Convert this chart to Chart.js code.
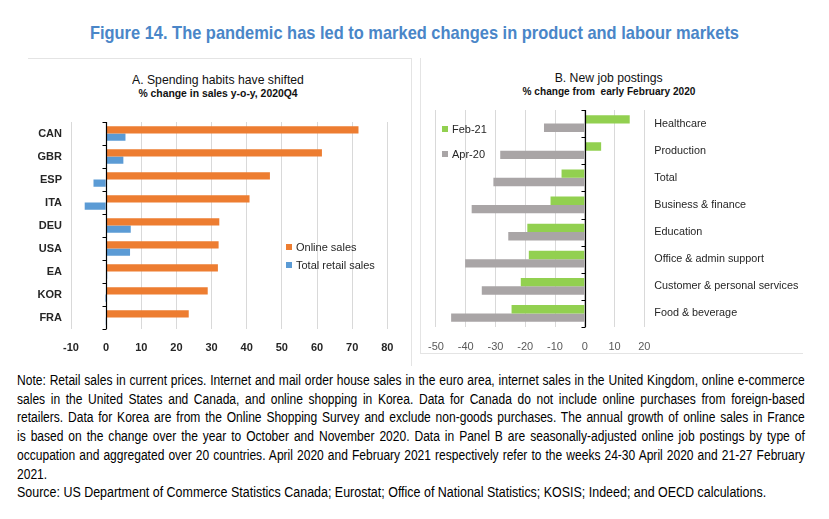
<!DOCTYPE html>
<html>
<head>
<meta charset="utf-8">
<script src="https://cdn.jsdelivr.net/npm/chart.js@4.4.1/dist/chart.umd.min.js"></script>
<style>
  html, body { margin:0; padding:0; background:#fff; }
  body { width:829px; height:519px; position:relative; overflow:hidden; font-family:"Liberation Sans", Arial, sans-serif; color:#000; }
  .abs { position:absolute; }
  .sx { display:inline-block; transform-origin:center center; }
  #title { left:0; width:829px; top:22px; text-align:center; font-weight:bold; font-size:18.5px; color:#4a86c8; white-space:nowrap; }
  #title .sx { transform:scaleX(0.888); }
  .ptitle { text-align:center; font-size:13.5px; color:#111; white-space:nowrap; }
  .ptitle .sx { transform:scaleX(0.905); }
  .psub { text-align:center; font-weight:bold; color:#111; white-space:nowrap; }
  .leg { font-size:11px; color:#262626; white-space:nowrap; }
  .leg span.sw { display:inline-block; width:6px; height:6px; margin-right:4px; vertical-align:1px; }
  #note { left:17px; top:371px; width:800px; font-size:14px; line-height:18.7px; color:#000; }
  #note .j { width:916px; transform:scaleX(0.86); transform-origin:left top; text-align:justify; text-align-last:justify; white-space:nowrap; }
  #note .n { white-space:nowrap; transform:scaleX(0.86); transform-origin:left top; }
  #note .s { white-space:nowrap; transform:scaleX(0.89); transform-origin:left top; }
  canvas { position:absolute; }
</style>
</head>
<body>
<div id="title" class="abs"><span class="sx">Figure 14. The pandemic has led to marked changes in product and labour markets</span></div>

<div class="abs" style="left:28px; top:58px; width:383px; height:307px; border-top:1px solid #e4e4e4; border-right:1px solid #e4e4e4;"></div>
<div class="abs" style="left:420px; top:58px; width:382px; height:295px; border-left:1px solid #e4e4e4; border-bottom:1px solid #e4e4e4;"></div>

<div class="abs ptitle" style="left:118px; width:200px; top:72px;"><span class="sx">A. Spending habits have shifted</span></div>
<div class="abs psub" style="left:118px; width:200px; top:88px; font-size:10.4px;">% change in sales y-o-y, 2020Q4</div>
<div class="abs ptitle" style="left:509px; width:200px; top:70px;"><span class="sx">B. New job postings</span></div>
<div class="abs psub" style="left:509px; width:200px; top:86px; font-size:10.1px;">% change from&nbsp; early February 2020</div>

<canvas id="chartA" width="415" height="365" style="left:0; top:0; width:415px; height:365px;"></canvas>
<canvas id="chartB" width="414" height="365" style="left:415px; top:0; width:414px; height:365px;"></canvas>

<div class="abs leg" style="left:286px; top:241px;"><span class="sw" style="background:#ED7D31"></span>Online sales</div>
<div class="abs leg" style="left:286px; top:259px;"><span class="sw" style="background:#5B9BD5"></span>Total retail sales</div>
<div class="abs leg" style="left:442px; top:123px;"><span class="sw" style="background:#92D050"></span>Feb-21</div>
<div class="abs leg" style="left:442px; top:148px;"><span class="sw" style="background:#A9A5A6"></span>Apr-20</div>

<div id="note" class="abs">
  <div class="j">Note: Retail sales in current prices. Internet and mail order house sales in the euro area, internet sales in the United Kingdom, online e-commerce</div>
  <div class="j">sales in the United States and Canada, and online shopping in Korea. Data for Canada do not include online purchases from foreign-based</div>
  <div class="j">retailers. Data for Korea are from the Online Shopping Survey and exclude non-goods purchases. The annual growth of online sales in France</div>
  <div class="j">is based on the change over the year to October and November 2020. Data in Panel B are seasonally-adjusted online job postings by type of</div>
  <div class="j">occupation and aggregated over 20 countries. April 2020 and February 2021 respectively refer to the weeks 24-30 April 2020 and 21-27 February</div>
  <div class="n">2021.</div>
  <div class="s">Source: US Department of Commerce Statistics Canada; Eurostat; Office of National Statistics; KOSIS; Indeed; and OECD calculations.</div>
</div>

<script>
// ---------- Panel A data ----------
const countries = ["CAN", "GBR", "ESP", "ITA", "DEU", "USA", "EA", "KOR", "FRA"];
const onlineSales = [71.8, 61.4, 46.6, 40.8, 32.2, 32.0, 31.8, 28.9, 23.5];
const totalRetailSales = [5.5, 4.9, -3.6, -6.1, 7.0, 6.8, 0.3, -0.3, -0.2];
const ticksA = [-10, 0, 10, 20, 30, 40, 50, 60, 70, 80];

// ---------- Panel B data ----------
const occupations = ["Healthcare", "Production", "Total", "Business & finance", "Education",
  "Office & admin support", "Customer & personal services", "Food & beverage"];
const feb21 = [15.1, 5.5, -7.8, -11.5, -19.3, -18.8, -21.5, -24.6];
const apr20 = [-13.7, -28.4, -30.7, -38.0, -25.7, -40.2, -34.6, -44.9];
const ticksB = [-50, -40, -30, -20, -10, 0, 10, 20];

const zeroAxis = {
  id: 'zeroAxis',
  afterDatasetsDraw(chart) {
    const { ctx, scales: { x, y } } = chart;
    const x0 = Math.round(x.getPixelForValue(0)) + 0.5;
    const n = chart.data.labels.length;
    const top = y.getPixelForValue(-0.5), bot = y.getPixelForValue(n - 0.5);
    ctx.save();
    ctx.strokeStyle = '#000';
    ctx.lineWidth = 1.2;
    ctx.beginPath();
    ctx.moveTo(x0, top); ctx.lineTo(x0, bot);
    for (let i = 0; i <= n; i++) {
      const yy = Math.round(y.getPixelForValue(i - 0.5)) + 0.5;
      ctx.moveTo(x0, yy); ctx.lineTo(x0 - 4, yy);
    }
    ctx.stroke();
    ctx.restore();
  }
};

Chart.defaults.font.family = '"Liberation Sans", Arial, sans-serif';
Chart.defaults.animation = false;

new Chart(document.getElementById('chartA'), {
  type: 'bar',
  data: {
    labels: countries,
    datasets: [
      { label: 'Online sales', data: onlineSales, backgroundColor: '#ED7D31' },
      { label: 'Total retail sales', data: totalRetailSales, backgroundColor: '#5B9BD5' }
    ]
  },
  options: {
    indexAxis: 'y',
    responsive: false,
    maintainAspectRatio: false,
    categoryPercentage: 0.62,
    barPercentage: 1.0,
    layout: { padding: { top: 122, right: 27.7, left: 0, bottom: 0 } },
    plugins: { legend: { display: false }, tooltip: { enabled: false } },
    scales: {
      x: {
        min: -10, max: 80,
        afterBuildTicks: s => { s.ticks = ticksA.map(v => ({ value: v })); },
        afterFit: s => { s.height = 36; },
        grid: { color: '#d9d9d9', drawTicks: false, lineWidth: 1 },
        border: { display: false },
        ticks: { padding: 12, color: '#262626', font: { size: 11, weight: 'bold' } }
      },
      y: {
        afterFit: s => { s.width = 71; },
        grid: { display: false, drawTicks: false },
        border: { display: false },
        ticks: { padding: 9, color: '#262626', font: { size: 11, weight: 'bold' } }
      }
    }
  },
  plugins: [zeroAxis]
});

new Chart(document.getElementById('chartB'), {
  type: 'bar',
  data: {
    labels: occupations,
    datasets: [
      { label: 'Feb-21', data: feb21, backgroundColor: '#92D050' },
      { label: 'Apr-20', data: apr20, backgroundColor: '#A9A5A6' }
    ]
  },
  options: {
    indexAxis: 'y',
    responsive: false,
    maintainAspectRatio: false,
    categoryPercentage: 0.62,
    barPercentage: 1.0,
    layout: { padding: { top: 110, right: 0, left: 20.7, bottom: 0 } },
    plugins: { legend: { display: false }, tooltip: { enabled: false } },
    scales: {
      x: {
        min: -50, max: 20,
        afterBuildTicks: s => { s.ticks = ticksB.map(v => ({ value: v })); },
        afterFit: s => { s.height = 38; },
        grid: { color: '#d9d9d9', drawTicks: false, lineWidth: 1 },
        border: { display: false },
        ticks: { padding: 13, color: '#595959', font: { size: 11 } }
      },
      y: {
        position: 'right',
        afterFit: s => { s.width = 184.7; },
        grid: { display: false, drawTicks: false },
        border: { display: false },
        ticks: { padding: 10, color: '#262626', font: { size: 10.8 } }
      }
    }
  },
  plugins: [zeroAxis]
});
</script>
</body>
</html>
